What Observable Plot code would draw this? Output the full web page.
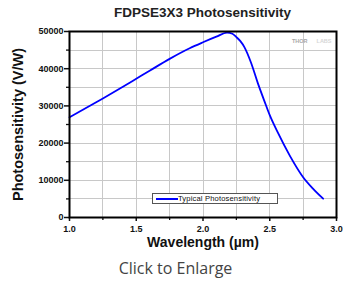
<!DOCTYPE html>
<html>
<head>
<meta charset="utf-8">
<script src="https://cdn.jsdelivr.net/npm/d3@7"></script>
<script src="https://cdn.jsdelivr.net/npm/@observablehq/plot@0.6"></script>
<style>
  body { margin: 0; background: #fff; }
  #wrap { position: relative; width: 343px; height: 282px; overflow: hidden; font-family: Arial, "Liberation Sans", sans-serif; }
  #title { position: absolute; left: 69px; width: 267px; top: 5px; text-align: center; font-weight: bold; font-size: 13.5px; color: #222; }
  #chart { position: absolute; left: 0; top: 24px; }
  #legend { position: absolute; left: 152px; top: 193px; width: 124px; height: 9px; border: 1px solid #555; background: #fff; font-size: 7.6px; line-height: 9px; white-space: nowrap; }
  #legend .swatch { position: absolute; left: 3px; top: 4px; width: 22px; height: 1.5px; background: #0000ff; }
  #legend .label { position: absolute; left: 25px; top: 0; color: #111; letter-spacing: 0.15px; }
  #caption { position: absolute; left: 0; width: 351px; top: 257px; text-align: center; font-family: "Open Sans", sans-serif; font-size: 16px; color: #444; }
</style>
</head>
<body>
<div id="wrap">
  <div id="title"></div>
  <div id="chart"></div>
  <div id="legend"><span class="swatch"></span><span class="label"></span></div>
  <div id="caption"></div>
</div>
<script>
const titleText = "FDPSE3X3 Photosensitivity";
const xLabel = "Wavelength (µm)";
const yLabel = "Photosensitivity (V/W)";
const seriesName = "Typical Photosensitivity";
const captionText = "Click to Enlarge";
const watermarkA = "THOR";
const watermarkB = "LABS";

const wavelength = [1.00, 1.10, 1.25, 1.40, 1.50, 1.60, 1.75, 1.90, 2.00, 2.10, 2.18, 2.22, 2.25, 2.28, 2.31, 2.36, 2.41, 2.46, 2.50, 2.56, 2.65, 2.75, 2.82, 2.90];
const sensitivity = [26950, 28950, 32000, 35150, 37300, 39450, 42650, 45500, 47100, 48600, 49700, 49400, 48500, 47400, 45800, 41600, 36200, 31300, 27500, 22860, 16630, 10830, 7900, 5050];

const xTicks = [1.0, 1.5, 2.0, 2.5, 3.0];
const xMinor = [1.25, 1.75, 2.25, 2.75];
const xGrid = [1.25, 1.5, 1.75, 2.0, 2.25, 2.5, 2.75];
const yTicks = [0, 10000, 20000, 30000, 40000, 50000];
const yMinor = [5000, 15000, 25000, 35000, 45000];
const yGrid = [5000, 10000, 15000, 20000, 25000, 30000, 35000, 40000, 45000];

document.getElementById("title").textContent = titleText;
document.getElementById("caption").textContent = captionText;
document.querySelector("#legend .label").textContent = seriesName;

const data = wavelength.map((w, i) => ({w, s: sensitivity[i]}));

const plot = Plot.plot({
  width: 343,
  height: 232,
  marginLeft: 69,
  marginRight: 7,
  marginTop: 7,
  marginBottom: 39,
  style: {fontFamily: "Arial", background: "#fff", color: "#111"},
  x: {domain: [1, 3], label: null, axis: null},
  y: {domain: [0, 50000], label: null, axis: null},
  marks: [
    Plot.ruleX(xGrid, {x: d => d, stroke: "#c8c8c8", strokeWidth: 1, shapeRendering: "crispEdges"}),
    Plot.ruleY(yGrid, {y: d => d, stroke: "#c8c8c8", strokeWidth: 1, shapeRendering: "crispEdges"}),
    Plot.axisX(xMinor, {tickSize: 3, tickFormat: () => "", strokeWidth: 1.3}),
    Plot.axisY(yMinor, {tickSize: 3, tickFormat: () => "", strokeWidth: 1.3}),
    Plot.axisX(xTicks, {tickSize: 4, tickPadding: 4, tickFormat: d3.format(".1f"), fontSize: 9, fontWeight: "bold", strokeWidth: 1.5}),
    Plot.axisY(yTicks, {tickSize: 5, tickPadding: 1, tickFormat: d => String(d), fontSize: 9, fontWeight: "bold", letterSpacing: "0.6px", strokeWidth: 1.5}),
    Plot.line(data, {x: "w", y: "s", stroke: "#0000ff", strokeWidth: 1.8, curve: "monotone-x"}),
    Plot.frame({stroke: "#000", strokeWidth: 2}),
    Plot.text([watermarkB], {frameAnchor: "top-right", dx: -5, dy: 8, fontSize: 5.5, fontWeight: "bold", fill: "#d6d6d6", textAnchor: "end"}),
    Plot.text([watermarkA], {frameAnchor: "top-right", dx: -29, dy: 8, fontSize: 5.5, fontWeight: "bold", fill: "#a8a8a8", textAnchor: "end"}),
    Plot.text([xLabel], {frameAnchor: "bottom", dy: 29, fontSize: 14, fontWeight: "bold", fill: "#111"}),
    Plot.text([yLabel], {frameAnchor: "left", dx: -51, rotate: -90, textAnchor: "middle", fontSize: 14.5, fontWeight: "bold", fill: "#111"})
  ]
});
document.getElementById("chart").appendChild(plot);
</script>
</body>
</html>
